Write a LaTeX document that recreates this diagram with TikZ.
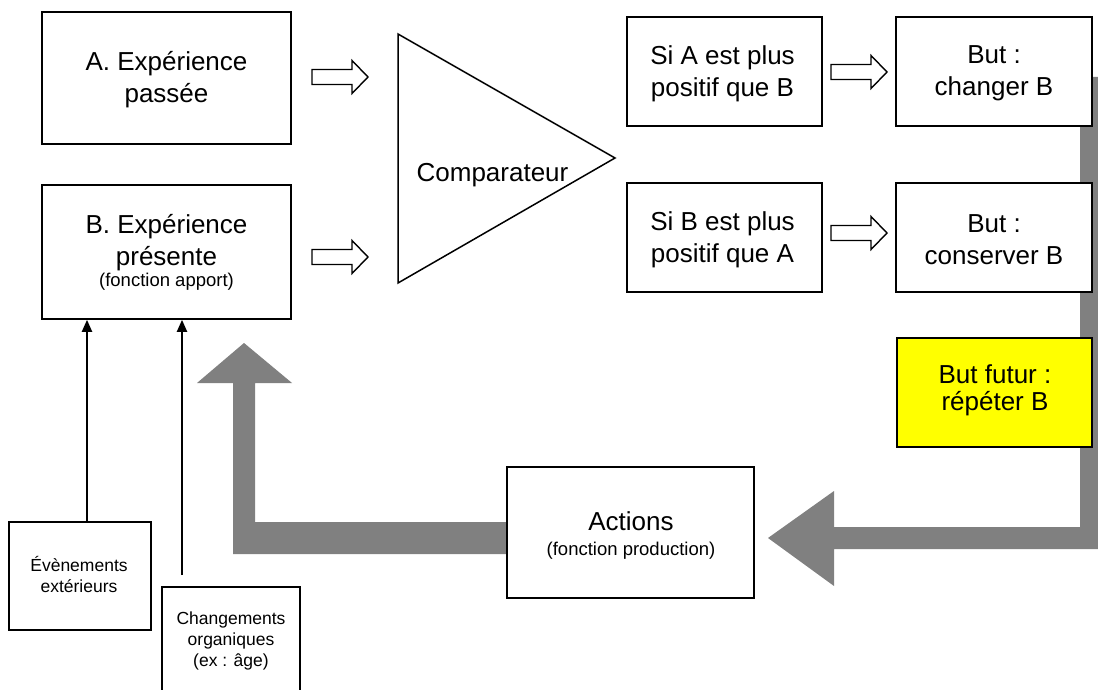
\documentclass[tikz,border=0pt]{standalone}
\usepackage{fontspec}
\setmainfont{Liberation Sans}
\usetikzlibrary{arrows.meta,calc}
\definecolor{grayc}{HTML}{808080}
\definecolor{yel}{HTML}{FFFF00}
\begin{document}
\begin{tikzpicture}[x=1pt,y=-1pt,
 box/.style={draw=black,line width=1.6pt,fill=white,inner sep=0pt},
 big/.style={font=\fontsize{26}{32}\selectfont,align=center,inner sep=0pt},
 sml/.style={font=\fontsize{18.5}{22}\selectfont,align=center,inner sep=0pt},
 tny/.style={font=\fontsize{17.5}{21}\selectfont,align=center,inner sep=0pt},
 hollow/.pic={\draw[draw=black,line width=1.4pt,fill=white,line join=miter] (-28,-7.5) -- (12,-7.5) -- (12,-16.5) -- (28,0) -- (12,16.5) -- (12,7.5) -- (-28,7.5) -- cycle;},
 gry/.style={fill=grayc,draw=none},
 blk/.style={draw=black,line width=2pt,-{Triangle[width=10pt,length=12pt]}}
]
\useasboundingbox (0,0) rectangle (1098,690);
\clip (0,0) rectangle (1098,690);
\fill[white] (0,0) rectangle (1098,690);

% gray feedback arrows (behind boxes)
\fill[gry] (1102,77) -- (1102,549) -- (834,549) -- (834,586) -- (768,538) -- (834,491) -- (834,527) -- (1080,527) -- (1080,77) -- cycle;
\fill[gry] (508,522) -- (255,522) -- (255,383) -- (292,383) -- (244,343) -- (197,383) -- (233,383) -- (233,554) -- (508,554) -- cycle;

% left boxes
\node[box,minimum width=249,minimum height=132] (A) at (166.5,78) {};
\node[big] (At) at ($(A.center)+(0,1.3)$) {A. Expérience\\passée};
\node[box,minimum width=249,minimum height=134] (B) at (166.5,252) {};
\node[big] (Bt) at ($(B.center)+(0,-9.7)$) {B. Expérience\\présente};
\node[sml] (Bs) at ($(B.center)+(0,30.2)$) {(fonction apport)};

% comparator
\coordinate (t1) at (398,34);
\coordinate (t2) at (398,283);
\coordinate (t3) at (615,158);
\draw[line width=1.5pt,line join=miter] (t1) -- (t3) -- (t2) -- cycle;
\node[big,anchor=base] (cmp) at (492.5,181.7) {Comparateur};

% right boxes
\node[box,minimum width=195,minimum height=109] (SA) at (724.5,71.5) {};
\node[big] (SAt) at ($(SA.center)+(-2,1.8)$) {Si A est plus\\positif que B};
\node[box,minimum width=196,minimum height=109] (BC) at (994,71.5) {};
\node[big] (BCt) at ($(BC.center)+(0,1.9)$) {But :\\changer B};
\node[box,minimum width=195,minimum height=109] (SB) at (724.5,237.5) {};
\node[big] (SBt) at ($(SB.center)+(-2,1.8)$) {Si B est plus\\positif que A};
\node[box,minimum width=196,minimum height=109] (BK) at (994,237.5) {};
\node[big] (BKt) at ($(BK.center)+(0,1.9)$) {But :\\conserver B};
\node[box,fill=yel,minimum width=195,minimum height=109] (Y) at (994.5,392.5) {};
\node[font=\fontsize{26}{27}\selectfont,align=center,inner sep=0pt] (Yt) at ($(Y.center)+(0.5,-2.3)$) {But futur :\\répéter B};

% actions
\node[box,minimum width=247,minimum height=131] (act) at (630.5,532.5) {};
\node[big,anchor=base] (actt) at (631,530) {Actions};
\node[sml,anchor=base] (acts) at (631,555) {(fonction production)};

% bottom-left boxes
\node[box,minimum width=142,minimum height=108] (ev) at (80,576) {};
\node[tny] (evt) at ($(ev.center)+(-1,-1.5)$) {Évènements\\extérieurs};
\node[box,minimum width=138,minimum height=120] (ch) at (231,647) {};
\node[tny] (cht) at ($(ch.center)+(0,-5.7)$) {Changements\\organiques\\(ex : âge)};

% hollow arrows
\pic at (340,77) {hollow};
\pic at (340,257) {hollow};
\pic at (859,72) {hollow};
\pic at (859,233) {hollow};

% black arrows
\coordinate (e1) at ($(ev.north)+(7,0)$);
\draw[blk] (e1) -- (e1 |- B.south);
\coordinate (c1) at (182,575);
\draw[blk] (c1) -- (c1 |- B.south);
\end{tikzpicture}
\end{document}
